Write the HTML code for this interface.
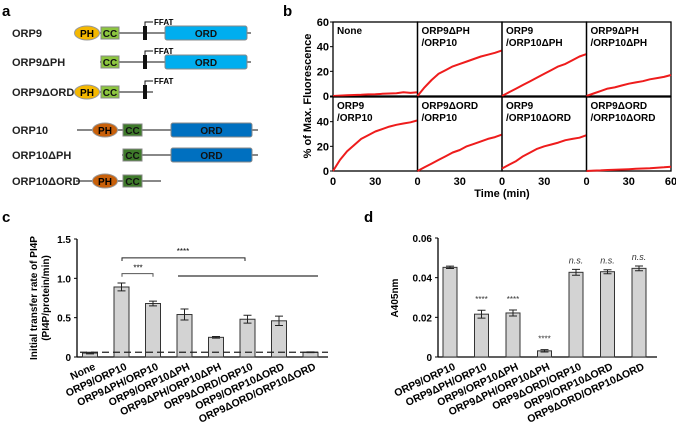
<!DOCTYPE html>
<html><head><meta charset="utf-8">
<style>
html,body{margin:0;padding:0;background:#fff;}
svg{display:block;font-family:"Liberation Sans",Arial,sans-serif;}
</style></head>
<body>
<svg id="fig" width="676" height="436" viewBox="0 0 676 436" xmlns="http://www.w3.org/2000/svg">
<g id="pa"></g>
<g id="pb"></g>
<g id="pc"></g>
<g id="pd"></g>
</svg>
<script>
// ---------- Panel b data ----------
const bTimes = [0,5,10,15,20,25,30,35,40,45,50,55,60];
const bLabels = [["None",""],["ORP9\u0394PH","/ORP10"],["ORP9","/ORP10\u0394PH"],["ORP9\u0394PH","/ORP10\u0394PH"],
                 ["ORP9","/ORP10"],["ORP9\u0394ORD","/ORP10"],["ORP9","/ORP10\u0394ORD"],["ORP9\u0394ORD","/ORP10\u0394ORD"]];
const bSeries0 = [0,0.3,0.6,0.8,1,1.3,1.5,1.8,2,2.3,3,2.5,3];
const bSeries1 = [0,7,13,18,21,24,26,28,30,32,33.5,35,37];
const bSeries2 = [0,3,6,9,12,15,18,21,24,26,29,32,34];
const bSeries3 = [0,2,4,6,7,8.5,10,11,12,13.5,14.5,15.5,17];
const bSeries4 = [0,9,16,21,26,29,32,34,36,37.5,38.5,39.5,41];
const bSeries5 = [0,3,6,9,12,15,17,20,22,24,26,27.5,29.5];
const bSeries6 = [2,5,8,12,15,18,20,21.5,23,25,26,27,29];
const bSeries7 = [0,0.3,0.5,0.8,1,1.2,1.5,1.8,2,2.3,2.7,3,3.5];
const bYTicks = [0,20,40,60];
const bXTicks = [0,30,60];
// ---------- Panel c data ----------
const cCats = ["None","ORP9/ORP10","ORP9\u0394PH/ORP10","ORP9/ORP10\u0394PH","ORP9\u0394PH/ORP10\u0394PH","ORP9\u0394ORD/ORP10","ORP9/ORP10\u0394ORD","ORP9\u0394ORD/ORP10\u0394ORD"];
const cVals = [0.05,0.89,0.68,0.54,0.25,0.48,0.46,0.06];
const cErrs = [0.01,0.05,0.03,0.07,0.01,0.05,0.06,0.005];
const cTicks = [0,0.5,1.0,1.5];
const cTickLabels = ["0","0.5","1.0","1.5"];
// ---------- Panel d data ----------
const dCats = ["ORP9/ORP10","ORP9\u0394PH/ORP10","ORP9/ORP10\u0394PH","ORP9\u0394PH/ORP10\u0394PH","ORP9\u0394ORD/ORP10","ORP9/ORP10\u0394ORD","ORP9\u0394ORD/ORP10\u0394ORD"];
const dVals = [0.0452,0.0216,0.0222,0.0031,0.0427,0.0430,0.0447];
const dErrs = [0.0006,0.0020,0.0015,0.0006,0.0015,0.0010,0.0012];
const dSig = ["","****","****","****","n.s.","n.s.","n.s."];
const dTicks = [0,0.02,0.04,0.06];
const dTickLabels = ["0","0.02","0.04","0.06"];

const NS="http://www.w3.org/2000/svg";
function mk(parent,tag,attrs,text){const e=document.createElementNS(NS,tag);for(const k in attrs)e.setAttribute(k,attrs[k]);if(text!==undefined)e.textContent=text;parent.appendChild(e);return e;}

// ---------- Panel a ----------
const pa=document.getElementById('pa');
let t=mk(pa,'text',{x:2,y:16,'font-size':15,'font-weight':'bold'},'a');


const rowsA=[
 {n:"ORP9",y:33,line:[100,251],ph:87,phc:"#f5b800",cc:[101,119],ccc:"#8dc63f",ffat:145,ord:[165,247],oc:"#00aeef"},
 {n:"ORP9\u0394PH",y:62,line:[100,251],ph:null,cc:[101,119],ccc:"#8dc63f",ffat:145,ord:[165,247],oc:"#00aeef"},
 {n:"ORP9\u0394ORD",y:92,line:[100,153],ph:87,phc:"#f5b800",cc:[101,119],ccc:"#8dc63f",ffat:145,ord:null},
 {n:"ORP10",y:130,line:[77,258],ph:105,phc:"#c8600a",cc:[123,142],ccc:"#3e7a2a",ffat:null,ord:[171,252],oc:"#0070c0"},
 {n:"ORP10\u0394PH",y:155,line:[122,258],ph:null,cc:[123,142],ccc:"#3e7a2a",ffat:null,ord:[171,252],oc:"#0070c0"},
 {n:"ORP10\u0394ORD",y:181,line:[76,161],ph:105,phc:"#c8600a",cc:[123,142],ccc:"#3e7a2a",ffat:null,ord:null}];
rowsA.forEach(r=>{
 const g=mk(pa,'g',{});
 
 
 mk(g,'line',{x1:r.line[0],x2:r.line[1],y1:r.y,y2:r.y,stroke:'#888','stroke-width':2});
 mk(g,'text',{x:12,y:r.y+4,'font-size':11,'font-weight':'bold',fill:'#222'},r.n);
 if(r.ph){mk(g,'ellipse',{cx:r.ph,cy:r.y,rx:12.5,ry:7,fill:r.phc,stroke:'#999','stroke-width':1});
   mk(g,'text',{x:r.ph,y:r.y+4,'font-size':10,'font-weight':'bold','text-anchor':'middle'},'PH');}
 mk(g,'rect',{x:r.cc[0],y:r.y-6,width:r.cc[1]-r.cc[0],height:12,fill:r.ccc,stroke:'#888'});
 mk(g,'text',{x:(r.cc[0]+r.cc[1])/2,y:r.y+4,'font-size':10,'font-weight':'bold','text-anchor':'middle',fill:'#111'},'CC');
 if(r.ffat){mk(g,'rect',{x:r.ffat-2,y:r.y-7,width:4,height:14,fill:'#111'});
   mk(g,'path',{d:`M${r.ffat} ${r.y-7}V${r.y-11}H${r.ffat+8}`,stroke:'#111',fill:'none','stroke-width':1});
   mk(g,'text',{x:r.ffat+9,y:r.y-8,'font-size':8,'font-weight':'bold'},'FFAT');}
 if(r.ord){mk(g,'rect',{x:r.ord[0],y:r.y-7,width:r.ord[1]-r.ord[0],height:14,rx:2,fill:r.oc,stroke:'#888'});
   mk(g,'text',{x:(r.ord[0]+r.ord[1])/2,y:r.y+4,'font-size':10,'font-weight':'bold','text-anchor':'middle',fill:'#111'},'ORD');}
});

// ---------- Panel b ----------
const pb=document.getElementById('pb');
t=mk(pb,'text',{x:283,y:16,'font-size':15,'font-weight':'bold'},'b');


const bX0=333,bW=84.5,bRowBase=[96,171],bRowH=74;
const bSeries=[bSeries0,bSeries1,bSeries2,bSeries3,bSeries4,bSeries5,bSeries6,bSeries7];
function bx(col,v){return bX0+col*bW+v/60*bW;}
function by(row,v){return bRowBase[row]-v/60*bRowH;}
for(let i=0;i<8;i++){
 const row=Math.floor(i/4),col=i%4;
 const g=mk(pb,'g',{});
 
 
 mk(g,'rect',{x:bx(col,0),y:by(row,60),width:bW,height:bRowH,fill:'none',stroke:'#000','stroke-width':1.3});
 mk(g,'text',{x:bx(col,0)+4,y:by(row,60)+12,'font-size':10,'font-weight':'bold'},bLabels[i][0]);
 if(bLabels[i][1])mk(g,'text',{x:bx(col,0)+4,y:by(row,60)+24,'font-size':10,'font-weight':'bold'},bLabels[i][1]);
 const pts=bSeries[i].map((v,j)=>bx(col,bTimes[j]).toFixed(1)+','+by(row,v).toFixed(1)).join(' ');
 const pl=mk(g,'polyline',{points:pts,fill:'none',stroke:'#ee1c1c','stroke-width':2,'stroke-linejoin':'round'});
 
 
}
for(let row=0;row<2;row++)bYTicks.forEach(v=>{
 mk(pb,'line',{x1:bX0-3,x2:bX0,y1:by(row,v),y2:by(row,v),stroke:'#000'});
 if(row===1&&v===60)return;
 mk(pb,'text',{x:bX0-4,y:by(row,v)+4,'font-size':11,'font-weight':'bold','text-anchor':'end'},v);
});
for(let col=0;col<4;col++)bXTicks.forEach(v=>{
 if(col<3&&v===60)return;
 mk(pb,'text',{x:bx(col,v),y:185,'font-size':11,'font-weight':'bold','text-anchor':'middle'},v);
});
t=mk(pb,'text',{x:0,y:0,'font-size':11,'font-weight':'bold','text-anchor':'middle',transform:'translate(311,96) rotate(-90)'},'% of Max. Fluorescence');

t=mk(pb,'text',{x:502,y:197,'font-size':11,'font-weight':'bold','text-anchor':'middle'},'Time (min)');


// ---------- bar chart helper ----------
function barChart(p,cats,vals,errs,ticks,tickLabels,ymax,x0,x1,yTop,yBot,c0,step,bw){
 const y=v=>yBot-v/ymax*(yBot-yTop);
 mk(p,'line',{x1:x0,x2:x0,y1:yTop,y2:yBot,stroke:'#000','stroke-width':1.3});
 mk(p,'line',{x1:x0,x2:x1,y1:yBot,y2:yBot,stroke:'#000','stroke-width':1.3});
 ticks.forEach((v,i)=>{mk(p,'line',{x1:x0-3,x2:x0,y1:y(v),y2:y(v),stroke:'#000'});
  mk(p,'text',{x:x0-6,y:y(v)+4,'font-size':10,'font-weight':'bold','text-anchor':'end'},tickLabels[i]);});
 cats.forEach((c,i)=>{
  const cx=c0+i*step;
  const r=mk(p,'rect',{x:cx-bw/2,y:y(vals[i]),width:bw,height:yBot-y(vals[i]),fill:'#d3d3d3',stroke:'#333','stroke-width':1});
  
  
  const e1=y(vals[i]+errs[i]),e2=y(vals[i]-errs[i]);
  mk(p,'path',{d:`M${cx} ${e1}V${e2}M${cx-4} ${e1}H${cx+4}M${cx-4} ${e2}H${cx+4}`,stroke:'#222',fill:'none','stroke-width':1});
  const lb=mk(p,'text',{x:0,y:0,'font-size':10.5,'font-weight':'bold','text-anchor':'end',transform:`translate(${cx+6},${yBot+12}) rotate(-25)`},c);
  
  
 });
 return y;
}
// ---------- Panel c ----------
const pc=document.getElementById('pc');
t=mk(pc,'text',{x:2,y:222,'font-size':15,'font-weight':'bold'},'c');

const cy=barChart(pc,cCats,cVals,cErrs,cTicks,cTickLabels,1.5,77,328,239,357,90,31.5,15);
mk(pc,'line',{x1:80,x2:328,y1:cy(0.06),y2:cy(0.06),stroke:'#222','stroke-dasharray':'7,4','stroke-width':1.2});
mk(pc,'path',{d:`M122 ${cy(1.22)}V${cy(1.26)}H245V${cy(1.22)}`,stroke:'#222',fill:'none'});
mk(pc,'text',{x:183,y:cy(1.31),'font-size':8,'text-anchor':'middle'},'****');
mk(pc,'path',{d:`M122 ${cy(1.02)}V${cy(1.06)}H153V${cy(1.02)}`,stroke:'#555',fill:'none'});
mk(pc,'text',{x:138,y:cy(1.10),'font-size':8,'text-anchor':'middle'},'***');
mk(pc,'line',{x1:178,x2:318,y1:cy(1.03),y2:cy(1.03),stroke:'#555','stroke-width':1.5});
t=mk(pc,'text',{x:0,y:0,'font-size':10,'font-weight':'bold','text-anchor':'middle',transform:'translate(37,298) rotate(-90)'},'Initial transfer rate of PI4P');

mk(pc,'text',{x:0,y:0,'font-size':10,'font-weight':'bold','text-anchor':'middle',transform:'translate(49,298) rotate(-90)'},'(PI4P/protein/min)');

// ---------- Panel d ----------
const pd=document.getElementById('pd');
t=mk(pd,'text',{x:364,y:222,'font-size':15,'font-weight':'bold'},'d');

const dy=barChart(pd,dCats,dVals,dErrs,dTicks,dTickLabels,0.06,438,657,238,357,450,31.5,14);
dCats.forEach((c,i)=>{if(!dSig[i])return;
 const ns=dSig[i]==='n.s.';
 mk(pd,'text',{x:450+i*31.5,y:dy(dVals[i]+dErrs[i])-(ns?6:8),'font-size':ns?9:8,'font-style':ns?'italic':'normal','text-anchor':'middle',fill:'#333'},dSig[i]);});
t=mk(pd,'text',{x:0,y:0,'font-size':10,'font-weight':'bold','text-anchor':'middle',transform:'translate(398,298) rotate(-90)'},'A405nm');

</script>
</body></html>
